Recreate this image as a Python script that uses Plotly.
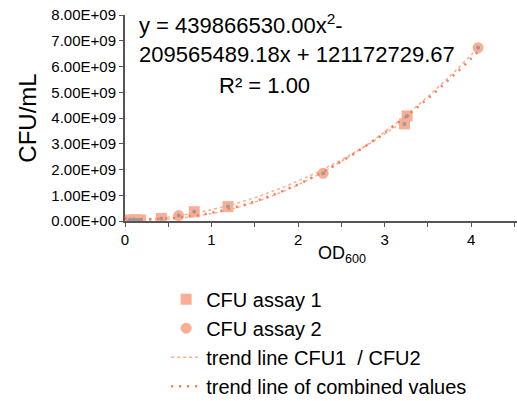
import numpy as np
import plotly.graph_objects as go

# Data
od_assay1 = [0.05, 0.13, 0.18, 0.42, 0.80, 1.19, 3.23, 3.26]
cfu_assay1 = [0.04e9, 0.04e9, 0.04e9, 0.10e9, 0.36e9, 0.56e9, 3.77e9, 4.08e9]
od_assay2 = [0.07, 0.10, 0.16, 0.62, 2.29, 4.08]
cfu_assay2 = [0.05e9, 0.05e9, 0.05e9, 0.21e9, 1.85e9, 6.73e9]

y_tickvals = [0, 1e9, 2e9, 3e9, 4e9, 5e9, 6e9, 7e9, 8e9]
y_ticktext = ["0.00E+00", "1.00E+09", "2.00E+09", "3.00E+09", "4.00E+09",
              "5.00E+09", "6.00E+09", "7.00E+09", "8.00E+09"]
x_tickvals = [0, 1, 2, 3, 4]
x_ticktext = ["0", "1", "2", "3", "4"]

FONT = "Liberation Sans, Arial, sans-serif"
SALMON = "#F9AE95"
CORAL = "#FF7A50"


def trend(xs, ys, x0, x1):
    c = np.polyfit(xs, ys, 2)
    xx = np.linspace(x0, x1, 120)
    return xx, np.polyval(c, xx)


fig = go.Figure()

fig.add_trace(go.Scatter(x=od_assay1, y=cfu_assay1, mode="markers", name="CFU assay 1",
                         marker=dict(symbol="square", size=11, color=SALMON)))
fig.add_trace(go.Scatter(x=od_assay2, y=cfu_assay2, mode="markers", name="CFU assay 2",
                         marker=dict(symbol="circle", size=11, color=SALMON)))

tx1, ty1 = trend(od_assay1, cfu_assay1, 0, 3.3)
tx2, ty2 = trend(od_assay2, cfu_assay2, 0, 4.08)
fig.add_trace(go.Scatter(x=tx1, y=ty1, mode="lines", name="trend line CFU1  / CFU2",
                         legendgroup="t12",
                         line=dict(color=SALMON, width=1.5, dash="dot")))
fig.add_trace(go.Scatter(x=tx2, y=ty2, mode="lines", name="trend line CFU2",
                         legendgroup="t12", showlegend=False,
                         line=dict(color=SALMON, width=1.5, dash="dot")))

all_x = od_assay1 + od_assay2
all_y = cfu_assay1 + cfu_assay2
tcx, tcy = trend(all_x, all_y, 0, 4.08)
fig.add_trace(go.Scatter(x=tcx, y=tcy, mode="lines", name="trend line of combined values",
                         line=dict(color=CORAL, width=2.5, dash="2px,6px")))

fig.add_trace(go.Scatter(x=all_x, y=all_y, mode="markers", showlegend=False,
                         marker=dict(size=4, color="#9a9a9a"), hoverinfo="skip"))

fig.update_layout(
    width=517, height=401,
    margin=dict(l=125, r=0, t=15, b=180, autoexpand=False),
    plot_bgcolor="white", paper_bgcolor="white",
    font=dict(family=FONT, color="black"),
    showlegend=True,
    legend=dict(x=0.105, y=-0.285, xanchor="left", yanchor="top",
                font=dict(size=20, family=FONT), itemwidth=30,
                tracegroupgap=0, bgcolor="rgba(0,0,0,0)"),
    xaxis=dict(range=[0, 4.53], tickvals=x_tickvals, ticktext=x_ticktext,
               showgrid=False, zeroline=False, showline=True, linecolor="#555",
               linewidth=2, ticks="outside", ticklen=4, tickcolor="#555",
               tickfont=dict(size=15),
               minor=dict(dtick=0.5, ticks="outside", ticklen=4, tickcolor="#555")),
    yaxis=dict(range=[0, 8e9], tickvals=y_tickvals, ticktext=y_ticktext,
               showgrid=False, zeroline=False, showline=True, linecolor="#555",
               linewidth=2, ticks="outside", ticklen=4, tickcolor="#555",
               tickfont=dict(size=15),
               title=dict(text="CFU/mL", font=dict(size=24), standoff=8)),
)

fig.add_annotation(xref="paper", yref="paper", x=0.554, y=-0.165, xanchor="center",
                   yanchor="middle", text="OD<sub>600</sub>", showarrow=False,
                   font=dict(size=18, family=FONT))
fig.add_annotation(xref="paper", yref="paper", x=0.03, y=1.035, xanchor="left", yanchor="top",
                   text="y = 439866530.00x<sup>2</sup>-<br>209565489.18x + 121172729.67",
                   showarrow=False, align="left", font=dict(size=22, family=FONT))
fig.add_annotation(xref="paper", yref="paper", x=0.235, y=0.66, xanchor="left", yanchor="middle",
                   text="R² = 1.00", showarrow=False, font=dict(size=22, family=FONT))

fig.write_html("out.html")
